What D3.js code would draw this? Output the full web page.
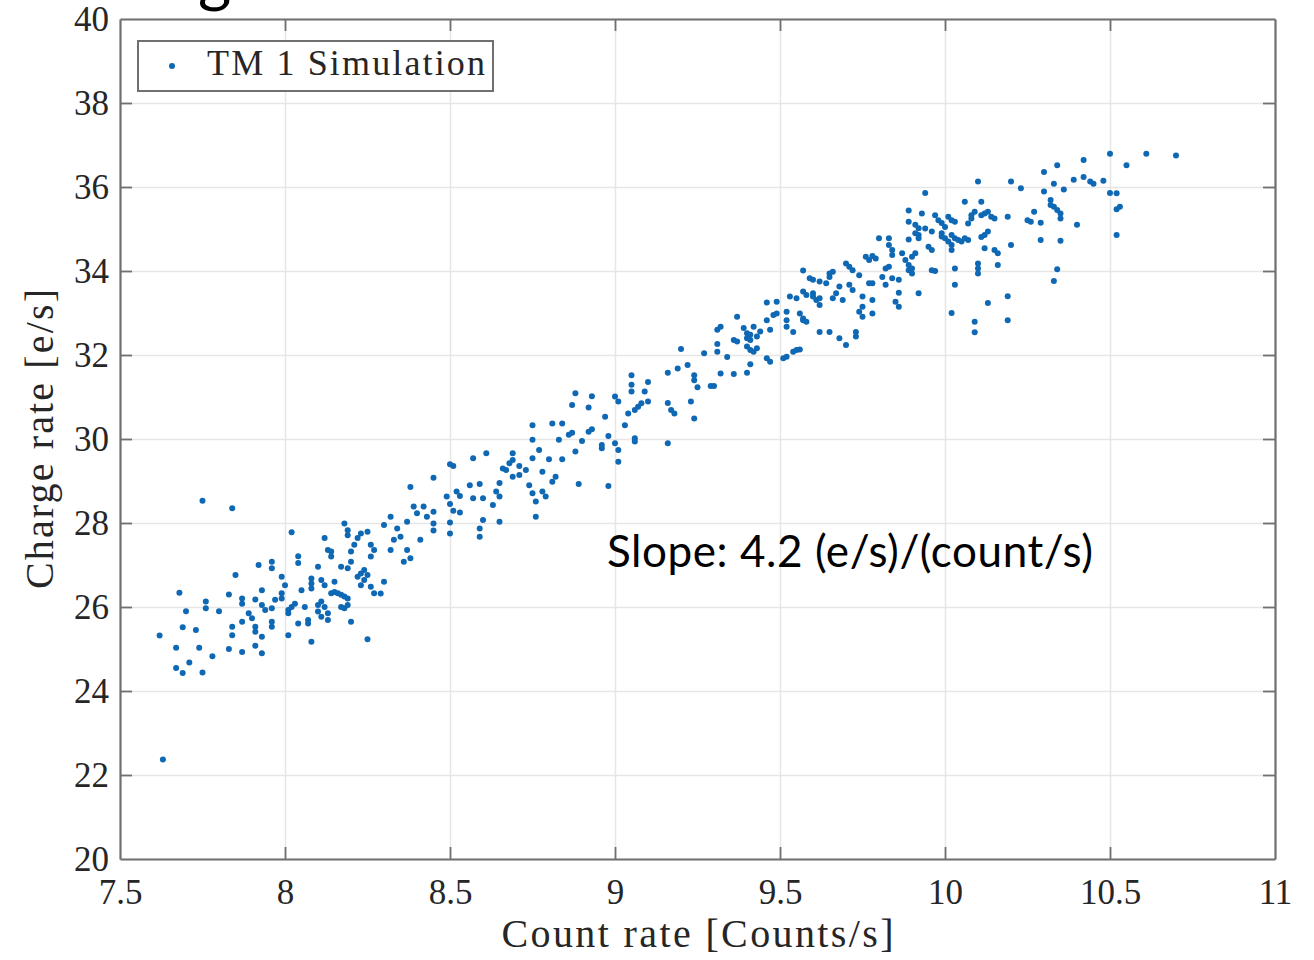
<!DOCTYPE html>
<html>
<head>
<meta charset="utf-8">
<script src="https://cdn.jsdelivr.net/npm/d3@7"></script>
<style>
  body { margin: 0; background: #fff; }
  svg { display: block; }
</style>
</head>
<body>
<svg id="chart" width="1314" height="960"></svg>
<script>
const xTicks = [7.5, 8, 8.5, 9, 9.5, 10, 10.5, 11]
const yTicks = [20, 22, 24, 26, 28, 30, 32, 34, 36, 38, 40]
const xLabel = 'Count rate [Counts/s]'
const yLabel = 'Charge rate [e/s]'
const seriesName = 'TM 1 Simulation'
const slopeNote = 'Slope: 4.2 (e/s)/(count/s)'
const titleTail = 'g'

// [count rate, charge rate]
const points = [
  [7.75,28.53],[7.84,28.35],[8.02,27.78],[7.68,26.34],[7.62,25.32],[7.63,22.37],[7.85,26.76],[7.83,26.30],
  [7.76,26.13],[7.76,25.97],[7.70,25.90],[7.69,25.52],[7.73,25.45],[7.67,25.03],[7.74,25.03],[7.67,24.55],
  [7.69,24.43],[7.71,24.68],[7.75,24.44],[7.78,24.83],[7.80,25.90],[7.83,25.00],[7.84,25.53],[7.84,25.33],
  [7.87,24.93],[7.91,25.08],[7.93,24.90],[7.93,25.29],[7.87,25.65],[7.87,26.20],[7.87,26.08],[7.91,26.18],
  [7.89,25.85],[7.90,25.73],[7.91,25.53],[7.91,25.41],[7.92,27.00],[7.93,26.40],[7.96,27.08],[7.96,26.92],
  [7.99,26.72],[8.00,26.52],[7.93,26.05],[7.94,25.93],[7.96,25.97],[7.97,26.17],[7.99,26.33],[7.99,26.20],
  [8.01,25.93],[8.02,26.00],[8.03,26.08],[8.01,25.85],[7.96,25.65],[7.96,25.53],[8.01,25.33],[8.04,25.61],
  [8.04,27.21],[8.04,27.05],[8.05,26.40],[8.08,26.68],[8.08,26.56],[8.08,26.44],[8.10,26.96],[8.11,26.64],
  [8.12,26.52],[8.06,26.00],[8.07,25.69],[8.07,25.61],[8.08,25.17],[8.10,26.05],[8.11,26.13],[8.10,25.89],
  [8.11,25.77],[8.12,26.00],[8.13,25.85],[8.13,25.69],[8.14,26.33],[8.15,26.36],[8.16,26.33],[8.17,26.29],
  [8.18,26.25],[8.19,26.20],[8.12,27.64],[8.13,27.36],[8.14,27.32],[8.14,27.20],[8.15,26.60],[8.17,26.00],
  [8.18,25.97],[8.19,26.05],[8.20,25.65],[8.17,26.96],[8.19,26.92],[8.18,27.99],[8.19,27.83],[8.19,27.71],
  [8.20,27.32],[8.20,27.08],[8.21,27.48],[8.22,27.64],[8.23,27.75],[8.25,27.79],[8.22,26.72],[8.23,26.80],
  [8.24,26.88],[8.25,26.76],[8.23,26.52],[8.24,26.64],[8.26,26.48],[8.27,26.33],[8.25,25.23],[8.26,27.48],
  [8.27,27.36],[8.26,27.20],[8.30,27.95],[8.30,26.60],[8.32,28.15],[8.34,27.87],[8.33,27.60],[8.36,27.08],
  [8.38,27.16],[8.38,28.86],[8.39,28.39],[8.40,28.23],[8.37,28.03],[8.29,26.32],[8.32,27.36],[8.35,27.67],
  [8.37,27.36],
  [8.45,29.08],[8.50,29.40],[8.51,29.36],[8.57,29.54],[8.61,29.66],[8.41,27.60],[8.45,27.82],[8.50,28.01],
  [8.50,27.75],[8.49,28.63],[8.50,28.45],[8.51,28.29],[8.53,28.25],[8.52,28.75],[8.53,28.64],[8.56,28.90],
  [8.59,28.93],[8.57,28.59],[8.60,28.59],[8.59,27.87],[8.59,27.67],[8.60,28.07],[8.63,28.43],[8.64,28.75],
  [8.65,28.63],[8.65,28.03],[8.65,28.95],[8.66,29.30],[8.68,29.42],[8.69,29.66],[8.69,29.50],[8.71,29.36],
  [8.71,29.14],[8.69,29.10],[8.67,29.26],[8.73,29.26],[8.74,28.90],[8.75,28.71],[8.76,28.51],[8.76,28.15],
  [8.75,29.54],[8.75,29.98],[8.75,30.33],[8.77,29.74],[8.78,29.22],[8.78,28.75],[8.79,28.63],[8.80,29.52],
  [8.81,28.98],[8.82,29.10],[8.81,30.37],[8.84,30.37],[8.83,29.98],[8.84,29.52],[8.86,30.10],[8.87,30.15],
  [8.87,30.81],[8.88,31.09],[8.88,29.70],[8.89,28.93],[8.90,29.95],[8.92,30.17],[8.93,30.23],[8.92,30.75],
  [8.93,31.02],[8.96,29.78],[8.96,29.86],[8.97,30.53],[8.98,30.07],[8.98,28.88],[9.00,31.01],[9.01,30.89],
  [9.00,29.90],[9.01,29.74],[9.01,29.46],[9.03,30.33],[9.05,31.29],[9.05,31.52],[9.05,31.13],[9.04,30.61],
  [9.06,30.69],[9.07,30.77],[9.08,30.85],[9.10,30.89],[9.06,30.02],[9.06,29.94],[9.09,31.13],[9.10,31.36],
  [8.42,28.39],[8.43,28.15],[8.45,28.27],[8.45,27.99],
  [9.16,31.58],[9.16,29.90],[9.16,30.86],[9.17,30.69],[9.18,30.61],[9.19,31.68],[9.22,31.76],[9.20,32.14],
  [9.23,30.89],[9.24,31.52],[9.24,31.40],[9.25,31.23],[9.24,30.49],[9.27,32.04],[9.29,31.26],[9.30,31.26],
  [9.31,32.08],[9.31,32.26],[9.31,32.60],[9.32,32.67],[9.32,31.56],[9.34,31.95],[9.36,31.55],[9.36,32.36],
  [9.37,32.32],[9.37,32.91],[9.39,32.64],[9.40,32.52],[9.40,32.40],[9.41,32.48],[9.41,32.36],[9.40,32.20],
  [9.41,32.12],[9.40,31.58],[9.41,31.78],[9.42,32.67],[9.42,32.08],[9.43,32.16],[9.43,32.44],[9.44,32.56],
  [9.46,32.83],[9.46,31.92],[9.47,31.84],[9.46,33.25],[9.47,32.60],[9.48,32.95],[9.49,32.99],[9.49,33.27],
  [9.51,31.92],[9.52,31.96],[9.52,32.67],[9.52,32.83],[9.52,33.03],[9.53,33.39],[9.54,32.08],[9.55,32.12],
  [9.56,32.13],[9.54,32.55],[9.55,33.35],[9.56,32.99],[9.57,32.87],[9.57,32.83],[9.58,32.79],[9.57,34.01],
  [9.57,33.51],[9.58,33.43],[9.60,33.47],[9.60,33.39],[9.61,33.31],[9.62,33.35],[9.59,33.83],[9.60,33.79],
  [9.62,33.75],[9.62,32.55],[9.62,33.19],[9.64,33.71],[9.65,33.86],[9.65,33.94],[9.66,33.98],[9.65,32.55],
  [9.66,33.35],[9.68,33.63],[9.67,33.47],[9.68,32.40],[9.69,33.31],[9.70,32.24],[9.70,34.18],[9.71,34.10],
  [9.72,34.02],[9.71,33.67],[9.72,33.55],[9.73,32.55],[9.73,32.44],[9.74,33.90],[9.74,33.03],[9.75,32.91],
  [9.75,33.15],[9.75,33.39],[9.76,34.34],[9.77,34.26],[9.77,33.71],
  [9.94,35.86],[9.89,35.44],[9.93,35.37],[9.89,35.17],[9.91,35.10],[9.92,35.02],[9.91,34.90],[9.92,34.86],
  [9.92,34.78],[9.89,34.75],[9.80,34.78],[9.83,34.78],[9.83,34.62],[9.84,34.50],[9.84,34.38],[9.78,34.36],
  [9.79,34.30],[9.82,34.06],[9.83,34.10],[9.81,33.86],[9.78,33.71],[9.82,33.67],[9.84,33.83],[9.86,33.79],
  [9.86,33.48],[9.78,33.31],[9.78,32.99],[9.85,33.27],[9.86,33.15],[9.87,34.42],[9.88,34.26],[9.89,34.14],
  [9.90,34.06],[9.90,34.34],[9.91,34.42],[9.89,34.02],[9.90,33.94],[9.92,33.47],[9.95,34.58],[9.96,34.50],
  [9.94,35.01],[9.96,34.94],[9.96,34.02],[9.97,34.00],[9.97,35.33],[9.98,35.21],[9.99,35.14],[9.99,34.90],
  [10.00,35.05],[9.99,34.82],[10.00,34.78],[10.01,34.70],[10.02,34.62],[10.02,34.50],[10.01,35.29],[10.02,35.21],
  [10.03,35.17],[10.02,34.86],[10.03,34.78],[10.04,34.74],[10.03,34.06],[10.03,33.67],[10.02,33.00],[10.05,34.70],
  [10.06,34.78],[10.07,34.74],[10.06,35.65],[10.07,35.13],[10.08,35.33],[10.09,35.41],[10.08,35.25],[10.10,36.13],
  [10.11,35.65],[10.10,34.18],[10.10,34.06],[10.10,33.94],[10.11,34.81],[10.12,34.86],[10.13,34.94],[10.12,34.54],
  [10.11,35.33],[10.12,35.37],[10.13,35.41],[10.14,35.29],[10.15,35.25],[10.13,33.24],[10.09,32.79],[10.09,32.54],
  [10.15,34.50],[10.16,34.42],[10.16,34.14],[10.19,33.40],[10.19,32.83],[10.19,35.29],[10.20,36.13],[10.20,34.62],
  [10.23,35.97],[10.25,35.21],
  [10.50,36.79],[10.61,36.79],[10.70,36.75],[10.55,36.52],[10.42,36.64],[10.34,36.52],[10.30,36.36],[10.33,36.08],
  [10.30,35.89],[10.36,35.94],[10.39,36.17],[10.42,36.24],[10.44,36.13],[10.45,36.08],[10.48,36.15],[10.50,35.86],
  [10.52,35.85],[10.32,35.69],[10.32,35.57],[10.33,35.53],[10.34,35.45],[10.35,35.37],[10.35,35.25],[10.27,35.41],
  [10.26,35.17],[10.29,35.15],[10.40,35.10],[10.52,35.47],[10.53,35.53],[10.52,34.86],[10.29,34.74],[10.35,34.72],
  [10.34,34.04],[10.33,33.76]
]

const width = 1314
const height = 960
const margin = {top: 19, right: 39, bottom: 101, left: 120}
const innerW = width - margin.left - margin.right
const innerH = height - margin.top - margin.bottom

const serif = '"Liberation Serif", "Times New Roman", serif'
const axisColor = '#707070'
const dotColor = '#0f68b3'

const svg = d3.select('#chart')

const x = d3.scaleLinear().domain([7.5, 11]).range([margin.left, margin.left + innerW])
const y = d3.scaleLinear().domain([20, 40]).range([margin.top + innerH, margin.top])

// slide title above the plot, only its descender shows
svg.append('text')
  .attr('x', 198).attr('y', 0)
  .style('font-family', 'Lato, "Open Sans", sans-serif')
  .style('font-size', '64px')
  .attr('fill', '#000')
  .text(titleTail)

// grid
svg.append('g')
  .attr('transform', `translate(0,${margin.top + innerH})`)
  .call(d3.axisBottom(x).tickValues(xTicks).tickSize(-innerH).tickFormat(''))
  .call(g => g.select('.domain').remove())
  .call(g => g.selectAll('line').attr('stroke', '#e6e6e6').attr('stroke-width', 1.5))

svg.append('g')
  .attr('transform', `translate(${margin.left},0)`)
  .call(d3.axisLeft(y).tickValues(yTicks).tickSize(-innerW).tickFormat(''))
  .call(g => g.select('.domain').remove())
  .call(g => g.selectAll('line').attr('stroke', '#e6e6e6').attr('stroke-width', 1.5))

// points
svg.append('g')
  .selectAll('circle')
  .data(points)
  .enter()
  .append('circle')
  .attr('cx', d => x(d[0]))
  .attr('cy', d => y(d[1]))
  .attr('r', 3)
  .attr('fill', dotColor)

// axes, ticks pointing inward like MATLAB
const tickLen = 12
function styleAxis(g) {
  g.select('.domain').attr('stroke', axisColor).attr('stroke-width', 2.2)
  g.selectAll('.tick line').attr('stroke', axisColor).attr('stroke-width', 1.8)
  g.selectAll('text')
    .style('font-family', serif)
    .style('font-size', '35px')
    .attr('fill', '#262626')
}

svg.append('g')
  .attr('transform', `translate(0,${margin.top + innerH})`)
  .call(d3.axisBottom(x).tickValues(xTicks).tickSize(-tickLen).tickSizeOuter(0).tickPadding(20).tickFormat(d3.format('')))
  .call(styleAxis)
  .call(g => g.selectAll('.tick line').filter(d => d === 7.5 || d === 11).remove())

svg.append('g')
  .attr('transform', `translate(0,${margin.top})`)
  .call(d3.axisTop(x).tickValues(xTicks).tickSize(-tickLen).tickSizeOuter(0).tickFormat(''))
  .call(styleAxis)
  .call(g => g.selectAll('.tick line').filter(d => d === 7.5 || d === 11).remove())

svg.append('g')
  .attr('transform', `translate(${margin.left},0)`)
  .call(d3.axisLeft(y).tickValues(yTicks).tickSize(-tickLen).tickSizeOuter(0).tickPadding(11))
  .call(styleAxis)
  .call(g => g.selectAll('.tick line').filter(d => d === 20 || d === 40).remove())

svg.append('g')
  .attr('transform', `translate(${margin.left + innerW},0)`)
  .call(d3.axisRight(y).tickValues(yTicks).tickSize(-tickLen).tickSizeOuter(0).tickFormat(''))
  .call(styleAxis)
  .call(g => g.selectAll('.tick line').filter(d => d === 20 || d === 40).remove())

// axis labels
svg.append('text')
  .attr('x', margin.left + innerW / 2)
  .attr('y', 947)
  .attr('text-anchor', 'middle')
  .attr('textLength', 392)
  .style('font-family', serif)
  .style('font-size', '40px')
  .attr('fill', '#262626')
  .text(xLabel)

svg.append('text')
  .attr('transform', `translate(53,${margin.top + innerH / 2}) rotate(-90)`)
  .attr('text-anchor', 'middle')
  .attr('textLength', 300)
  .style('font-family', serif)
  .style('font-size', '40px')
  .attr('fill', '#262626')
  .text(yLabel)

// legend
const legend = svg.append('g').attr('transform', 'translate(138,41)')
legend.append('rect')
  .attr('width', 355).attr('height', 50)
  .attr('fill', '#fff')
  .attr('stroke', axisColor)
  .attr('stroke-width', 2)
legend.append('circle')
  .attr('cx', 34).attr('cy', 25).attr('r', 3)
  .attr('fill', dotColor)
legend.append('text')
  .attr('x', 69).attr('y', 34)
  .attr('textLength', 278)
  .style('font-family', serif)
  .style('font-size', '36px')
  .attr('fill', '#262626')
  .text(seriesName)

// slope annotation
svg.append('text')
  .attr('x', 607).attr('y', 567)
  .attr('textLength', 486)
  .style('font-family', 'Lato, "Open Sans", sans-serif')
  .style('font-size', '44px')
  .attr('fill', '#000')
  .text(slopeNote)
</script>
</body>
</html>
